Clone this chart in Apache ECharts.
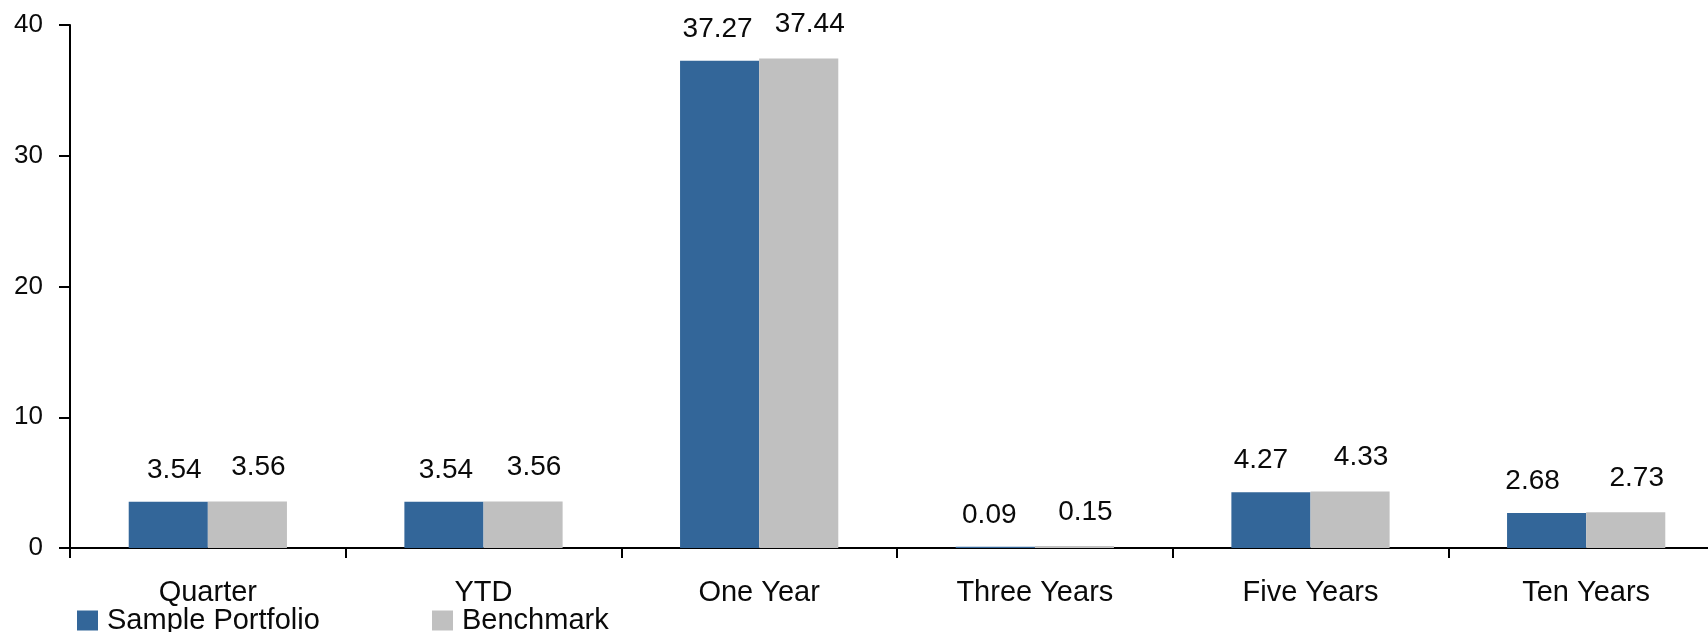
<!DOCTYPE html>
<html>
<head>
<meta charset="utf-8">
<script src="https://cdn.jsdelivr.net/npm/echarts@6/dist/echarts.min.js"></script>
<style>
  html, body { margin: 0; padding: 0; background: #ffffff; }
  #chart { width: 1708px; height: 632px; }
</style>
</head>
<body>
<div id="chart"></div>
<script>
// Period returns, in percent
const categories = ['Quarter', 'YTD', 'One Year', 'Three Years', 'Five Years', 'Ten Years'];
const portfolioName = 'Sample Portfolio';
const benchmarkName = 'Benchmark';
const portfolioValues = [3.54, 3.54, 37.27, 0.09, 4.27, 2.68];
const benchmarkValues = [3.56, 3.56, 37.44, 0.15, 4.33, 2.73];
const yTicks = [0, 10, 20, 30, 40];

const FONT = '"Liberation Sans", Arial, sans-serif';
const INK = '#0a0a0a';
const BLUE = '#336699';
const GREY = '#c0c0c0';

const chart = echarts.init(document.getElementById('chart'), null, { renderer: 'canvas' });

function valueLabel(distance, dx) {
  return {
    show: true,
    position: 'top',
    distance: distance,
    offset: [dx, 0],
    fontFamily: FONT,
    fontSize: 28,
    color: INK,
    formatter: p => p.value.toFixed(2)
  };
}

// portfolio labels sit slightly right of their bar on the left and drift leftwards across the chart
const portfolioData = portfolioValues.map((v, i) => ({
  value: v,
  label: { offset: [6 - 4 * i, 0] }
}));

function legendFor(name, left) {
  return {
    data: [name],
    left: left, top: 606,
    itemWidth: 21, itemHeight: 20,
    icon: 'rect',
    padding: 0,
    textStyle: { fontFamily: FONT, fontSize: 29, color: INK, padding: [0, 0, 0, 4] }
  };
}

chart.setOption({
  animation: false,
  backgroundColor: '#ffffff',
  // the last category runs a little past the right edge of the canvas
  grid: { left: 70, top: 25, height: 523, width: 1654, outerBoundsMode: 'none', containLabel: false },
  legend: [legendFor(portfolioName, 77), legendFor(benchmarkName, 432)],
  xAxis: {
    type: 'category',
    data: categories,
    axisLine: { show: true, lineStyle: { color: '#000', width: 2 } },
    axisTick: { show: true, inside: false, length: 10, lineStyle: { color: '#000', width: 2 } },
    axisLabel: { margin: 30, fontFamily: FONT, fontSize: 29, color: INK },
    splitLine: { show: false }
  },
  yAxis: {
    type: 'value',
    min: yTicks[0],
    max: yTicks[yTicks.length - 1],
    interval: 10,
    axisLine: { show: true, lineStyle: { color: '#000', width: 2 } },
    axisTick: { show: true, inside: false, length: 11, lineStyle: { color: '#000', width: 2 } },
    axisLabel: { margin: 27, fontFamily: FONT, fontSize: 26, color: INK },
    splitLine: { show: false }
  },
  series: [
    {
      name: portfolioName,
      type: 'bar',
      data: portfolioData,
      barWidth: '28.7%',
      barGap: '0%',
      itemStyle: { color: BLUE },
      label: valueLabel(17.5, 0)
    },
    {
      name: benchmarkName,
      type: 'bar',
      data: benchmarkValues,
      barWidth: '28.7%',
      barGap: '0%',
      itemStyle: { color: GREY },
      label: valueLabel(20, 11)
    }
  ]
});
</script>
</body>
</html>
